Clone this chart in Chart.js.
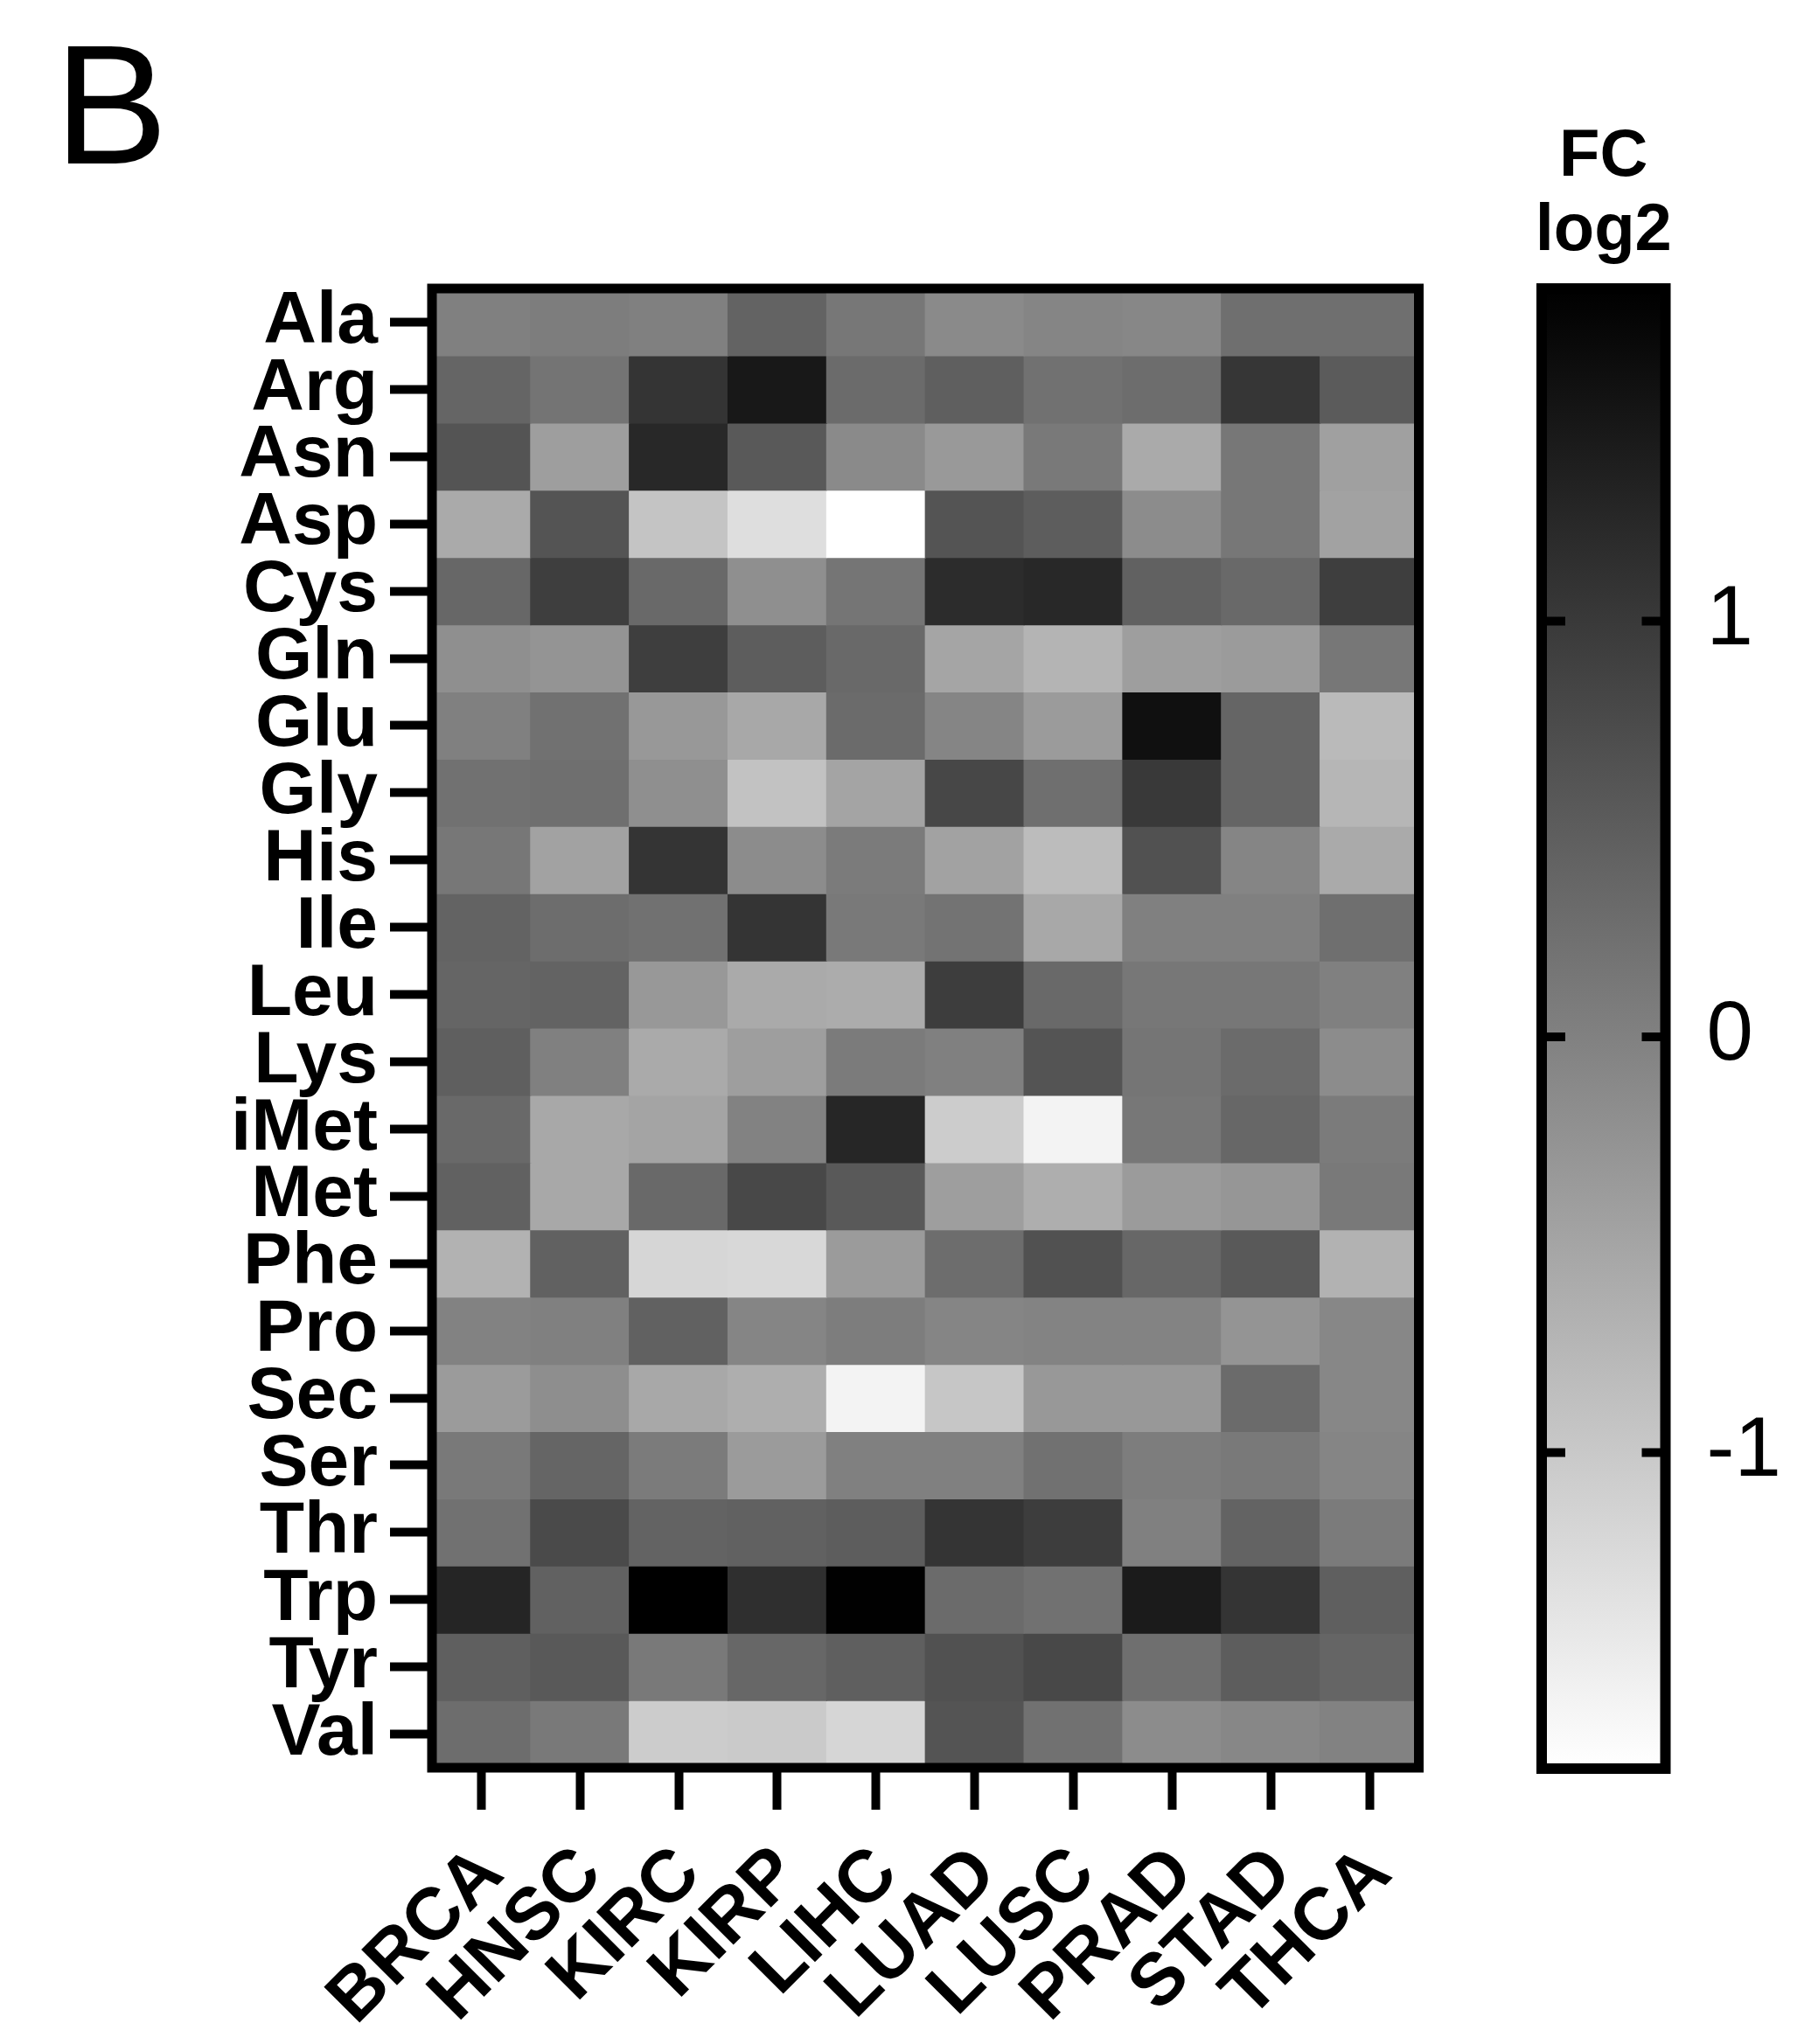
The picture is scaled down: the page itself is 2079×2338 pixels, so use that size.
<!DOCTYPE html>
<html>
<head>
<meta charset="utf-8">
<script src="https://cdn.jsdelivr.net/npm/chart.js@4.4.1/dist/chart.umd.min.js"></script>
<style>
  html, body { margin: 0; padding: 0; background: #fff; }
  #page { position: relative; width: 2079px; height: 2338px; overflow: hidden; background: #fff; }
  #heatmap { position: absolute; left: 0; top: 0; }
  #colorbar { position: absolute; left: 1700px; top: 0; }
  #panel { position: absolute; left: 62px; top: 22px; font: 195px/1 'Liberation Sans', Arial, sans-serif; color: #000; }
</style>
</head>
<body>
<div id="page">
  <canvas id="heatmap" width="1700" height="2338"></canvas>
  <canvas id="colorbar" width="379" height="2338"></canvas>
  <div id="panel">B</div>
</div>
<script>
// Amino acid tRNA expression, FC log2 per tumour type

const aminoAcids = ['Ala', 'Arg', 'Asn', 'Asp', 'Cys', 'Gln', 'Glu', 'Gly', 'His', 'Ile', 'Leu',
                    'Lys', 'iMet', 'Met', 'Phe', 'Pro', 'Sec', 'Ser', 'Thr', 'Trp', 'Tyr', 'Val'];
const cancers = ['BRCA', 'HNSC', 'KIRC', 'KIRP', 'LIHC', 'LUAD', 'LUSC', 'PRAD', 'STAD', 'THCA'];

// one column per cancer, values in aminoAcids order
const BRCA = [0.02, 0.39, 0.63, -0.57, 0.36, -0.20, 0.02, 0.22, 0.14, 0.42, 0.39, 0.47, 0.33, 0.45, -0.68, -0.01, -0.37, 0.11, 0.22, 1.29, 0.47, 0.28];
const HNSC = [0.05, 0.18, -0.40, 0.63, 0.93, -0.27, 0.22, 0.25, -0.46, 0.28, 0.42, 0.02, -0.54, -0.54, 0.45, 0.02, -0.18, 0.39, 0.76, 0.45, 0.56, 0.11];
const KIRC = [0.02, 1.08, 1.24, -0.94, 0.33, 0.93, -0.32, -0.20, 1.07, 0.22, -0.32, -0.57, -0.49, 0.33, -1.19, 0.45, -0.54, 0.08, 0.42, 1.80, 0.11, -1.05];
const KIRP = [0.42, 1.46, 0.56, -1.30, -0.20, 0.50, -0.54, -0.91, -0.15, 1.07, -0.57, -0.40, -0.01, 0.79, -1.22, -0.06, -0.63, -0.37, 0.45, 1.15, 0.36, -1.02];
const LIHC = [0.14, 0.30, -0.12, -1.76, 0.16, 0.33, 0.30, -0.49, 0.08, 0.11, -0.60, 0.08, 1.27, 0.56, -0.37, 0.05, -1.59, 0.02, 0.50, 1.78, 0.47, -1.19];
const LUAD = [-0.12, 0.47, -0.34, 0.63, 1.19, -0.51, -0.05, 0.81, -0.46, 0.19, 0.95, 0.02, -1.05, -0.40, 0.28, -0.06, -0.97, 0.02, 1.08, 0.30, 0.67, 0.63];
const LUSC = [-0.05, 0.22, 0.11, 0.50, 1.24, -0.71, -0.37, 0.25, -0.82, -0.54, 0.33, 0.63, -1.59, -0.63, 0.67, -0.03, -0.32, 0.22, 0.95, 0.22, 0.79, 0.22];
const PRAD = [-0.09, 0.28, -0.57, -0.15, 0.45, -0.40, 1.58, 1.01, 0.67, 0.02, 0.14, 0.16, 0.14, -0.37, 0.36, -0.03, -0.32, 0.05, 0.02, 1.43, 0.25, -0.15];
const STAD = [0.25, 1.04, 0.14, 0.14, 0.33, -0.37, 0.39, 0.39, -0.06, 0.02, 0.14, 0.30, 0.36, -0.29, 0.56, -0.26, 0.30, 0.11, 0.42, 1.07, 0.50, -0.09];
const THCA = [0.25, 0.53, -0.43, -0.46, 0.93, 0.14, -0.80, -0.74, -0.57, 0.25, 0.02, -0.15, 0.08, 0.11, -0.68, -0.09, -0.09, -0.06, 0.08, 0.47, 0.39, -0.01];
const series = [BRCA, HNSC, KIRC, KIRP, LIHC, LUAD, LUSC, PRAD, STAD, THCA];

// colour scale limits and colorbar ticks
const scaleMin = -1.76;
const scaleMax = 1.80;
const colorbarTicks = [-1, 0, 1];

const FONT = "'Liberation Sans', Arial, sans-serif";

// white (low) -> black (high)
function grayFor(v) {
    const t = Math.min(1, Math.max(0, (scaleMax - v) / (scaleMax - scaleMin)));
    const g = Math.round(255 * t);
    return 'rgb(' + g + ',' + g + ',' + g + ')';
}

// thick black box round the plot area
const frame = {
    id: 'frame',
    afterDatasetsDraw(chart, args, opts) {
        const { ctx, chartArea: a } = chart;
        ctx.save();
        ctx.strokeStyle = '#000';
        ctx.lineWidth = opts.width || 10;
        ctx.strokeRect(a.left, a.top, a.right - a.left, a.bottom - a.top);
        ctx.restore();
    }
};

// inner tick marks and the "FC log2" heading of the colorbar
const colorbarMarks = {
    id: 'colorbarMarks',
    afterDatasetsDraw(chart) {
        const { ctx, chartArea: a, scales } = chart;
        ctx.save();
        ctx.strokeStyle = '#000';
        ctx.lineWidth = 10;
        colorbarTicks.forEach(v => {
            const py = scales.y.getPixelForValue(v);
            ctx.beginPath();
            ctx.moveTo(a.left, py);
            ctx.lineTo(a.left + 27, py);
            ctx.moveTo(a.right - 27, py);
            ctx.lineTo(a.right, py);
            ctx.stroke();
        });
        ctx.fillStyle = '#000';
        ctx.textAlign = 'center';
        ctx.textBaseline = 'alphabetic';
        ctx.font = 'bold 76px ' + FONT;
        const cx = (a.left + a.right) / 2;
        ctx.fillText('FC', cx, a.top - 129);
        ctx.fillText('log2', cx, a.top - 44);
        ctx.restore();
    }
};

// --- Heatmap ---
const heatCtx = document.getElementById('heatmap');
new Chart(heatCtx, {
    type: 'bar',
    data: {
        labels: cancers,
        datasets: aminoAcids.map((name, r) => ({
            label: name,
            data: cancers.map(() => [r, r + 1]),
            backgroundColor: series.map(s => grayFor(s[r])),
            borderWidth: 0,
            barPercentage: 1,
            categoryPercentage: 1,
            grouped: false,
            inflateAmount: 0.6
        }))
    },
    options: {
        responsive: false,
        animation: false,
        layout: { padding: { top: 330, right: 77.5, left: 0, bottom: 0 } },
        plugins: {
            legend: { display: false },
            tooltip: { enabled: false },
            frame: { width: 11 }
        },
        scales: {
            x: {
                type: 'category',
                offset: true,
                border: { display: false },
                grid: { offset: false, drawOnChartArea: false, tickLength: 48, tickWidth: 10, tickColor: '#000' },
                ticks: {
                    autoSkip: false,
                    minRotation: 45,
                    maxRotation: 45,
                    padding: 24,
                    labelOffset: 12,
                    color: '#000',
                    font: { family: FONT, size: 84, weight: 'bold' }
                },
                afterFit: s => { s.height = 316; }
            },
            y: {
                type: 'linear',
                min: 0,
                max: aminoAcids.length,
                reverse: true,
                afterBuildTicks: s => { s.ticks = aminoAcids.map((_, i) => ({ value: i + 0.5 })); },
                border: { display: false },
                grid: { drawOnChartArea: false, tickLength: 48, tickWidth: 10, tickColor: '#000' },
                ticks: {
                    autoSkip: false,
                    padding: 14,
                    color: '#000',
                    font: { family: FONT, size: 84, weight: 'bold' },
                    callback: (v, i) => aminoAcids[i]
                },
                afterFit: s => { s.width = 494; }
            }
        }
    },
    plugins: [frame]
});

// --- Colorbar ---
const barCtx = document.getElementById('colorbar');
new Chart(barCtx, {
    type: 'bar',
    data: {
        labels: ['FC log2'],
        datasets: [{
            data: [[scaleMin, scaleMax]],
            backgroundColor: c => {
                const { chart } = c;
                if (!chart.chartArea) return '#888';
                const y = chart.scales.y;
                const g = chart.ctx.createLinearGradient(0, y.getPixelForValue(scaleMax), 0, y.getPixelForValue(scaleMin));
                g.addColorStop(0, grayFor(scaleMax));
                g.addColorStop(1, grayFor(scaleMin));
                return g;
            },
            borderWidth: 0,
            barPercentage: 1,
            categoryPercentage: 1
        }]
    },
    options: {
        responsive: false,
        animation: false,
        layout: { padding: { left: 63, top: 330, right: 0, bottom: 315 } },
        plugins: {
            legend: { display: false },
            tooltip: { enabled: false },
            frame: { width: 12 }
        },
        scales: {
            x: { display: false },
            y: {
                position: 'right',
                min: scaleMin,
                max: scaleMax,
                afterBuildTicks: s => { s.ticks = colorbarTicks.map(v => ({ value: v })); },
                border: { display: false },
                grid: { display: false, drawTicks: false },
                ticks: {
                    padding: 47,
                    color: '#000',
                    font: { family: FONT, size: 96 }
                },
                afterFit: s => { s.width = 174.5; }
            }
        }
    },
    plugins: [frame, colorbarMarks]
});
</script>
</body>
</html>
